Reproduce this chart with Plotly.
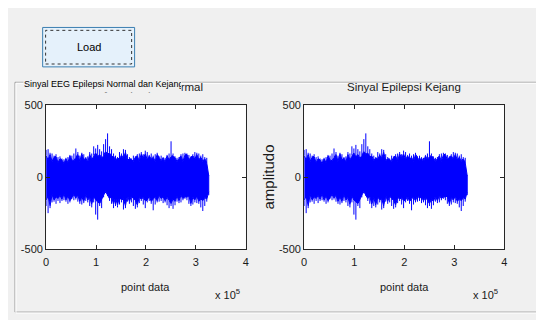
import numpy as np
import plotly.graph_objects as go

# ---- data (envelope of the EEG trace) ----
upper_env = [190, 195, 170, 165, 150, 160, 140, 145, 130, 125, 135, 140, 155, 150, 165, 200,
             175, 150, 170, 160, 140, 145, 175, 165, 215, 200, 225, 195, 180, 230, 265, 305,
             215, 195, 165, 150, 140, 175, 165, 195, 190, 160, 140, 130, 150, 145, 160, 165,
             175, 160, 185, 175, 155, 165, 150, 160, 170, 145, 150, 140, 135, 155, 165, 250,
             165, 145, 135, 140, 160, 165, 170, 165, 155, 145, 160, 175, 170, 165, 150, 160,
             140, 135, 15]
inner_upper = [150, 120, 160, 110, 140, 145, 100, 130, 120, 95, 130, 100, 150, 120, 115, 140,
               160, 110, 165, 120, 135, 105, 160, 120, 150, 170, 140, 160, 130, 150, 180, 160,
               170, 140, 150, 115, 135, 125, 155, 130, 175, 115, 130, 125, 110, 140, 150, 110,
               165, 130, 165, 120, 150, 125, 140, 110, 160, 140, 115, 135, 105, 150, 120, 145,
               150, 135, 110, 130, 150, 110, 155, 160, 120, 140, 150, 125, 160, 120, 140, 110,
               130, 100, 10]
lower_env = [-200, -250, -215, -175, -170, -185, -165, -180, -165, -160, -170, -185, -175, -150,
             -160, -155, -170, -185, -190, -180, -165, -175, -200, -210, -175, -260, -295, -200,
             -215, -140, -110, -130, -165, -185, -215, -200, -210, -190, -175, -225, -215, -170,
             -185, -175, -200, -220, -210, -180, -165, -190, -215, -175, -165, -185, -230, -190,
             -175, -170, -165, -180, -175, -195, -215, -200, -220, -195, -170, -180, -175, -160,
             -150, -160, -185, -200, -190, -175, -180, -185, -210, -235, -200, -170, -125]
inner_lower = [-160, -130, -200, -120, -160, -135, -150, -125, -155, -115, -160, -130, -165, -140,
               -120, -145, -125, -170, -135, -170, -120, -160, -140, -190, -130, -160, -170, -185,
               -150, -125, -100, -120, -150, -130, -190, -140, -195, -135, -160, -150, -200, -125,
               -170, -130, -150, -160, -195, -135, -155, -140, -165, -160, -130, -170, -150, -140,
               -165, -125, -150, -135, -165, -140, -160, -185, -150, -170, -130, -165, -125, -150,
               -135, -140, -130, -185, -140, -160, -130, -170, -150, -165, -140, -155, -100]
n_samples = 325700
x_tickvals = [0, 100000, 200000, 300000, 400000]
x_ticktext = ["0", "1", "2", "3", "4"]
y_tickvals = [-500, 0, 500]
y_ticktext = ["-500", "0", "500"]
titles = ["Sinyal Epilepsi Normal", "Sinyal Epilepsi Kejang"]
panel_title = "Sinyal EEG Epilepsi Normal dan Kejang"

# the page body adds an 8 px offset; the figure covers the rest of the window
OX, OY = 8, 8
W, H = 536, 312
FONT = "Liberation Sans, Arial"
TXT = "#1a1a1a"

def px(x):
    return (x - OX) / W

def py(y):
    return 1 - (y - OY) / H

samples = np.linspace(0, n_samples, len(upper_env))
core_x = list(samples) + list(samples[::-1])
core_y = list(inner_upper) + list(inner_lower[::-1])
spike_x, spike_y = [], []
for s, a, b, c, d in zip(samples, inner_upper, upper_env, inner_lower, lower_env):
    spike_x += [s, s, None, s, s, None]
    spike_y += [a, b, None, c, d, None]

fig = go.Figure()
for xa, ya in [("x", "y"), ("x2", "y2")]:
    fig.add_trace(go.Scatter(x=core_x, y=core_y, fill="toself", fillcolor="#0000ff",
                             line=dict(width=1, color="#0000ff"), mode="lines",
                             xaxis=xa, yaxis=ya, hoverinfo="skip", showlegend=False))
    fig.add_trace(go.Scatter(x=spike_x, y=spike_y, mode="lines",
                             line=dict(color="#0000ff", width=1), xaxis=xa, yaxis=ya,
                             hoverinfo="skip", showlegend=False))

ax_common = dict(showgrid=False, zeroline=False, showline=True, linecolor="#262626",
                 linewidth=1, mirror="ticks", ticks="inside", ticklen=4,
                 tickcolor="#262626", tickfont=dict(family=FONT, size=11, color=TXT))
xl = (43.5, 245.5)
xr = (304.5, 507)
yt, yb = 103, 252.5
fig.update_layout(
    width=W, height=H,
    margin=dict(l=0, r=0, t=0, b=0),
    paper_bgcolor="#f0f0f0", plot_bgcolor="white",
    xaxis=dict(domain=[px(xl[0]), px(xl[1])], range=[0, 400000], tickvals=x_tickvals,
               ticktext=x_ticktext, anchor="y", ticklabelstandoff=3, **ax_common),
    yaxis=dict(domain=[py(yb), py(yt)], range=[-500, 500], tickvals=y_tickvals,
               ticktext=y_ticktext, anchor="x", **ax_common),
    xaxis2=dict(domain=[px(xr[0]), px(xr[1])], range=[0, 400000], tickvals=x_tickvals,
                ticktext=x_ticktext, anchor="y2", ticklabelstandoff=3, **ax_common),
    yaxis2=dict(domain=[py(yb), py(yt)], range=[-500, 500], tickvals=y_tickvals,
                ticktext=y_ticktext, anchor="x2", **ax_common),
)

shapes = [
    # panel frame (etched)
    dict(type="rect", xref="paper", yref="paper", x0=px(12), x1=px(542), y0=py(318), y1=py(79),
         line=dict(color="#a0a0a0", width=1), fillcolor="rgba(0,0,0,0)", layer="below"),
    dict(type="rect", xref="paper", yref="paper", x0=px(13), x1=px(543), y0=py(319), y1=py(80),
         line=dict(color="#ffffff", width=1), fillcolor="rgba(0,0,0,0)", layer="below"),
    # Load button
    dict(type="rect", xref="paper", yref="paper", x0=px(40), x1=px(133), y0=py(63), y1=py(22),
         fillcolor="#e5f1fb", line=dict(color="#3c7fb1", width=1), layer="above"),
    dict(type="rect", xref="paper", yref="paper", x0=px(43), x1=px(130), y0=py(60), y1=py(25),
         fillcolor="rgba(0,0,0,0)", line=dict(color="#333333", width=1, dash="dot"),
         layer="above"),
]
fig.update_layout(shapes=shapes)

ann = []
ann.append(dict(text="Load", x=px(86.5), y=py(42.5), xanchor="center", yanchor="middle",
                font=dict(family=FONT, size=11, color="#000000")))
cx_l = (xl[0] + xl[1]) / 2
cx_r = (xr[0] + xr[1]) / 2
for cx, t in zip([cx_l, cx_r], titles):
    ann.append(dict(text=t, x=px(cx), y=py(83.5), xanchor="center", yanchor="middle",
                    font=dict(family=FONT, size=11.5, color=TXT)))
    ann.append(dict(text="point data", x=px(cx), y=py(292), xanchor="center", yanchor="middle",
                    font=dict(family=FONT, size=11, color=TXT)))
for xe in [xl[1], xr[1]]:
    ann.append(dict(text="x 10<sup>5</sup>", x=px(xe - 4), y=py(299), xanchor="right",
                    yanchor="middle", font=dict(family=FONT, size=11, color=TXT)))
ann.append(dict(text="amplitudo", x=px(268), y=py(178), xanchor="center", yanchor="middle",
                textangle=-90, font=dict(family=FONT, size=15, color=TXT)))
# panel title with background that hides most of the left subplot title
ann.append(dict(text=panel_title, x=px(20), y=py(81), xanchor="left", yanchor="middle",
                width=157, height=16, align="left", bgcolor="#f0f0f0", borderpad=0,
                font=dict(family=FONT, size=9, color="#000000")))
for a in ann:
    a.setdefault("xref", "paper")
    a.setdefault("yref", "paper")
    a.setdefault("showarrow", False)
fig.update_layout(annotations=ann)

fig.write_html("out.html")
